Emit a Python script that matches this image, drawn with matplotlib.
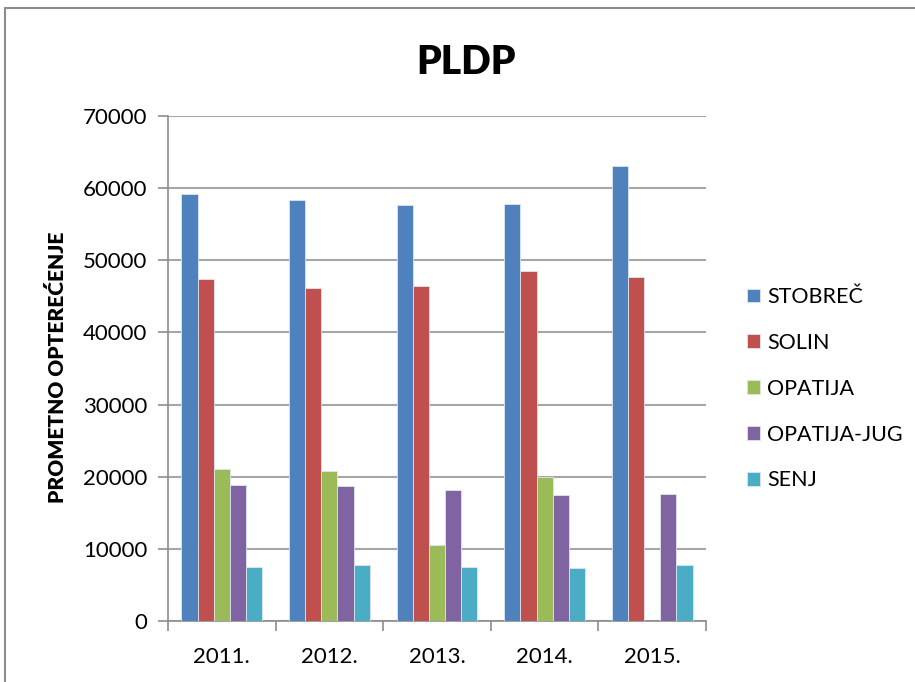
import numpy as np
import matplotlib
matplotlib.use("Agg")
import matplotlib.pyplot as plt
from matplotlib.patches import Rectangle

# podaci
years = ["2011.", "2012.", "2013.", "2014.", "2015."]
stobrec = [59200, 58400, 57700, 57800, 63100]
solin = [47400, 46200, 46500, 48500, 47700]
opatija = [21100, 20800, 10500, 20000, 0]
opatija_jug = [18900, 18700, 18200, 17400, 17600]
senj = [7500, 7800, 7500, 7300, 7700]

series = [("STOBREČ", stobrec, "#4F81BD"),
          ("SOLIN", solin, "#C0504D"),
          ("OPATIJA", opatija, "#9BBB59"),
          ("OPATIJA-JUG", opatija_jug, "#8064A2"),
          ("SENJ", senj, "#4BACC6")]

plt.rcParams["font.family"] = ["Lato", "DejaVu Sans"]

fig = plt.figure(figsize=(9.15, 6.82), dpi=100)
ax = fig.add_axes([168 / 915, 61 / 682, 538 / 915, 505 / 682])

# okvir grafikona
fig.patches.append(Rectangle((5 / 915, -0.1), 1.2, (682 - 8) / 682 + 0.1,
                             transform=fig.transFigure, fill=False,
                             edgecolor="#8c8c8c", linewidth=1.5))

x = np.arange(len(years))
w = 0.15
for i, (name, vals, col) in enumerate(series):
    ax.bar(x + (i - 2) * w, vals, width=w, color=col, label=name,
           edgecolor="#dde6f0", linewidth=0.6, zorder=3)

ax.set_xlim(-0.5, len(years) - 0.5)
ax.set_ylim(0, 70000)
ax.set_yticks(range(0, 70001, 10000))
ax.yaxis.grid(True, color="#a6a6a6", linewidth=1.5, zorder=0)
ax.set_axisbelow(True)

ax.set_xticks(x)
ax.set_xticklabels(years, fontsize=16)
ax.set_xticks(np.arange(-0.5, len(years)), minor=True)
ax.tick_params(axis="x", which="major", length=0, pad=19)
ax.tick_params(axis="x", which="minor", length=7, color="#8c8c8c", width=1.2)
ax.tick_params(axis="y", labelsize=16, length=7, color="#8c8c8c", width=1.2, pad=8)

for s in ["top", "right"]:
    ax.spines[s].set_visible(False)
for s in ["left", "bottom"]:
    ax.spines[s].set_color("#8c8c8c")
    ax.spines[s].set_linewidth(1.2)

fig.text(57 / 915, 1 - 367.5 / 682, "PROMETNO OPTEREĆENJE", fontsize=15,
         fontweight="heavy", rotation=90, ha="center", va="center")
fig.text(466 / 915, 1 - 62 / 682, "PLDP", fontsize=28, fontweight="heavy",
         ha="center", va="center")

ax.legend(loc="center left", bbox_to_anchor=(1.04, 0.46), frameon=False,
          fontsize=15.5, handlelength=0.6, handleheight=0.6, handletextpad=0.35,
          labelspacing=1.2)

fig.savefig("out.png", dpi=100)
